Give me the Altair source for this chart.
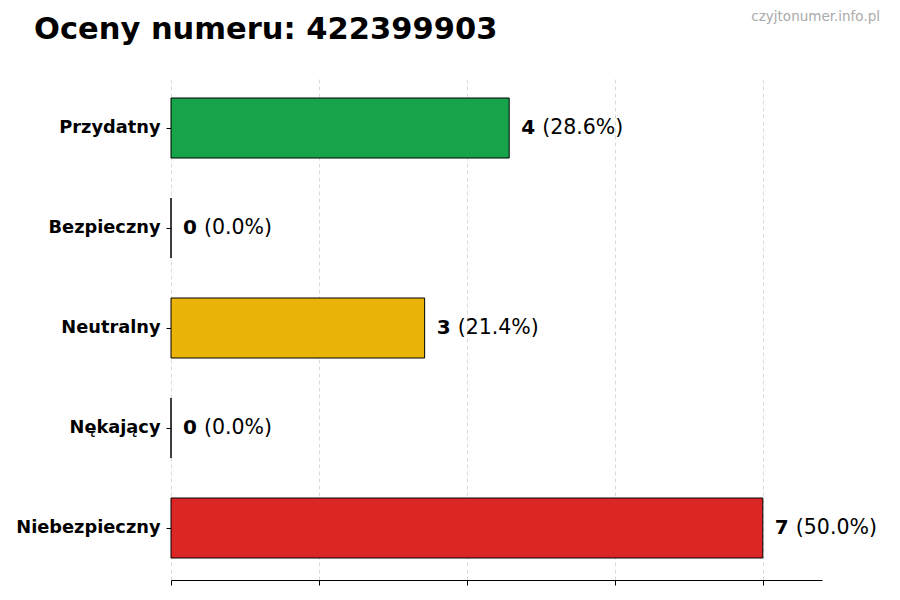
import altair as alt
import pandas as pd

categories = ["Przydatny", "Bezpieczny", "Neutralny", "Nękający", "Niebezpieczny"]
counts = [4, 0, 3, 0, 7]
percents = ["(28.6%)", "(0.0%)", "(21.4%)", "(0.0%)", "(50.0%)"]
colors = ["#16a34a", "#84cc16", "#eab308", "#f97316", "#dc2626"]
x_ticks = [0, 1.75, 3.5, 5.25, 7]
title_text = "Oceny numeru: 422399903"
watermark = "czyjtonumer.info.pl"

df = pd.DataFrame({"cat": categories, "count": counts, "pct": percents, "color": colors})

FONT = "DejaVu Sans"

y_enc = alt.Y(
    "cat:N",
    sort=categories,
    scale=alt.Scale(paddingInner=0.4, paddingOuter=0.22),
    axis=alt.Axis(
        title=None, domain=False, ticks=True, tickSize=5, tickColor="black",
        labelFont=FONT, labelFontWeight="bold", labelFontSize=17.8, labelColor="black",
        labelPadding=6, grid=False,
    ),
)
x_scale = alt.Scale(domain=[0, 7.7], nice=False, zero=True)

bars = alt.Chart(df).mark_bar(stroke="black", strokeWidth=1).encode(
    x=alt.X(
        "count:Q", scale=x_scale,
        axis=alt.Axis(
            title=None, values=x_ticks, labels=False, domain=True, domainColor="black",
            domainWidth=1, ticks=True, tickSize=5, tickColor="black",
            grid=True, gridColor="#d0d0d0", gridDash=[4, 3], gridWidth=0.8,
        ),
    ),
    y=y_enc,
    color=alt.Color("color:N", scale=None),
)

num = alt.Chart(df).mark_text(
    align="left", baseline="middle", dx=12, font=FONT, fontWeight="bold", fontSize=20, color="black"
).encode(x=alt.X("count:Q", scale=x_scale), y=alt.Y("cat:N", sort=categories), text="count:Q")

pct = alt.Chart(df).mark_text(
    align="left", baseline="middle", dx=33, font=FONT, fontSize=20.5, color="black"
).encode(x=alt.X("count:Q", scale=x_scale), y=alt.Y("cat:N", sort=categories), text="pct:N")

wm = alt.Chart(pd.DataFrame({"t": [watermark]})).mark_text(
    align="right", baseline="middle", font=FONT, fontSize=13.5, color="#aaaaaa"
).encode(x=alt.value(709), y=alt.value(-59), text="t:N")

ttl = alt.Chart(pd.DataFrame({"t": [title_text]})).mark_text(
    align="left", baseline="alphabetic", font=FONT, fontSize=30.5, fontWeight="bold", color="black"
).encode(x=alt.value(-137), y=alt.value(-37), text="t:N")

chart = alt.layer(bars, num, pct, wm, ttl).properties(
    width=651, height=504,
    background="white",
    autosize=alt.AutoSizeParams(type="none"),
    padding={"left": 163, "top": 68, "right": 70, "bottom": 12},
).configure_view(strokeWidth=0, stroke="transparent")

chart.save("out.html", embed_options={"renderer": "svg", "actions": False})
